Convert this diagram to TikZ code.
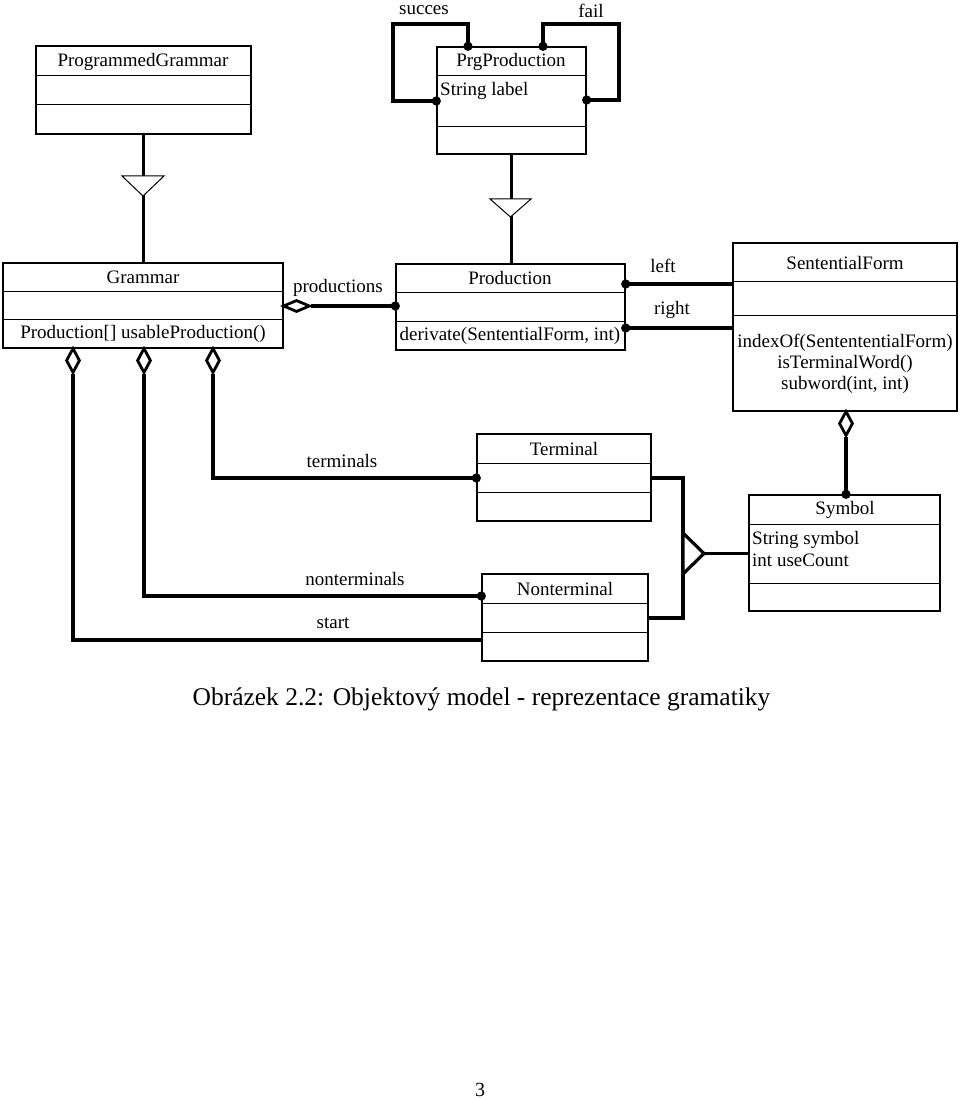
\documentclass[tikz,border=0pt]{standalone}
\usepackage{fontspec}
\setmainfont{Liberation Serif}
\usepackage{tikz}
\usetikzlibrary{arrows.meta,shapes.geometric}

\begin{document}
\begin{tikzpicture}
  [x=1pt,y=-1pt,
   every node/.style={inner sep=0pt,font=\fontsize{19}{21}\selectfont},
   classbox/.style={draw,line width=1.4pt},
   sepline/.style={line width=1pt},
   link/.style={line width=3.2pt},
   inherit/.style={line width=1pt,fill=white,line join=miter},
   aggr/.style={diamond,draw,line width=2.8pt,fill=white,inner sep=0pt},
   dotend/.style={-{Circle[length=9pt]},shorten >=-4.5pt},
   dotboth/.style={{Circle[length=9pt]}-{Circle[length=9pt]},shorten <=-4.5pt,shorten >=-4.5pt}]
  \useasboundingbox (0,0) rectangle (960,1099);

  % classes
  \node[classbox,minimum width=215,minimum height=88]  (programmed)  at (143.5,90)  {};
  \node[classbox,minimum width=149,minimum height=107] (prg)         at (511.5,100.5) {};
  \node[classbox,minimum width=280,minimum height=85]  (grammar)     at (143,305.5) {};
  \node[classbox,minimum width=229,minimum height=86]  (production)  at (510.5,307) {};
  \node[classbox,minimum width=224,minimum height=168] (sentential)  at (845,327)   {};
  \node[classbox,minimum width=174,minimum height=87]  (terminal)    at (564,477.5) {};
  \node[classbox,minimum width=166,minimum height=87]  (nonterminal) at (565,617.5) {};
  \node[classbox,minimum width=191,minimum height=116] (symbol)      at (844.5,553) {};

  \foreach \cls/\ya/\yb in {programmed/76/105,prg/76/127,grammar/291/319,production/292/321,
                            sentential/281/315,terminal/463/492,nonterminal/603/632,symbol/524/583} {
    \draw[sepline] (\cls.west |- 0,\ya) -- (\cls.east |- 0,\ya);
    \draw[sepline] (\cls.west |- 0,\yb) -- (\cls.east |- 0,\yb);
  }

  % class texts
  \node (programmed-name)  at (143,62)  {ProgrammedGrammar};
  \node (prg-name)         at (511,62)  {PrgProduction};
  \node[anchor=west] (prg-attr) at (440,91) {String label};
  \node (grammar-name)     at (143,277) {Grammar};
  \node (grammar-op)       at (143,334) {Production[] usableProduction()};
  \node (production-name)  at (510,278) {Production};
  \node (production-op)    at (510,336) {derivate(SententialForm, int)};
  \node (sentential-name)  at (845,263) {SententialForm};
  \node[align=center] (sentential-op) at (845,364)
    {indexOf(SentententialForm)\\isTerminalWord()\\subword(int, int)};
  \node (terminal-name)    at (564,449) {Terminal};
  \node (nonterminal-name) at (565,589) {Nonterminal};
  \node (symbol-name)      at (845,510) {Symbol};
  \node[anchor=west] (symbol-attr1) at (752,540) {String symbol};
  \node[anchor=west] (symbol-attr2) at (752,560) {int useCount};

  % inheritance
  \draw[link] (programmed.south) -- (programmed.south |- grammar.north);
  \draw[inherit] (122,176) -- (164,176) -- (143,196) -- cycle;
  \draw[link] (prg.south) -- (prg.south |- production.north);
  \draw[inherit] (490,199) -- (531,199) -- (510.5,217) -- cycle;

  % succes / fail loops
  \draw[link,dotboth] (prg.north -| 468,0) |- (393,24) |- (prg.west |- 0,101);
  \draw[link,dotboth] (prg.north -| 543,0) |- (619,24) |- (prg.east |- 0,100);
  \node (succes-lbl) at (424,10) {succes};
  \node (fail-lbl)   at (591,11) {fail};

  % aggregations
  \node[aggr,minimum width=27,minimum height=12] (dprod)    at (296.5,306) {};
  \node[aggr,minimum width=14,minimum height=25] (dstart)   at (73,360.5)  {};
  \node[aggr,minimum width=14,minimum height=25] (dnonterm) at (144,360.5) {};
  \node[aggr,minimum width=14,minimum height=25] (dterm)    at (213,360.5) {};
  \node[aggr,minimum width=14,minimum height=25] (dsym)     at (846,423.5) {};

  \draw[link,dotend] (dprod.east) -- (production.west |- dprod.east);
  \draw[link,dotend] (dterm.south) |- (terminal.west |- 0,478);
  \draw[link,dotend] (dnonterm.south) |- (nonterminal.west |- 0,596);
  \draw[link] (dstart.south) |- (nonterminal.west |- 0,640);
  \draw[link,dotend] (dsym.south) -- (dsym.south |- symbol.north);
  \draw[link,{Circle[length=9pt]}-,shorten <=-4.5pt] (production.east |- 0,284) -- (sentential.west |- 0,284);
  \draw[link,{Circle[length=9pt]}-,shorten <=-4.5pt] (production.east |- 0,328) -- (sentential.west |- 0,328);

  \node (productions-lbl)  at (338,288) {productions};
  \node (left-lbl)         at (663,266) {left};
  \node (right-lbl)        at (672,310) {right};
  \node (terminals-lbl)    at (342,461) {terminals};
  \node (nonterminals-lbl) at (355,579) {nonterminals};
  \node (start-lbl)        at (333,623) {start};

  % generalization to Symbol
  \draw[link] (terminal.east |- 0,478) -| (683,618) -- (nonterminal.east |- 0,618);
  \draw[link,fill=white,line join=miter] (683,533) -- (704,553.5) -- (683,574) -- cycle;
  \coordinate (genapex) at (704,553.5);
  \draw[link] (genapex) -- (symbol.west |- genapex);

  % caption and page number
  \node[anchor=base,font=\fontsize{25.5}{28}\selectfont] (caption) at (481.5,705)
    {Obrázek 2.2: Objektový model - reprezentace gramatiky};
  \node[anchor=base,font=\fontsize{20}{22}\selectfont] (pagenum) at (480,1096) {3};
\end{tikzpicture}
\end{document}
